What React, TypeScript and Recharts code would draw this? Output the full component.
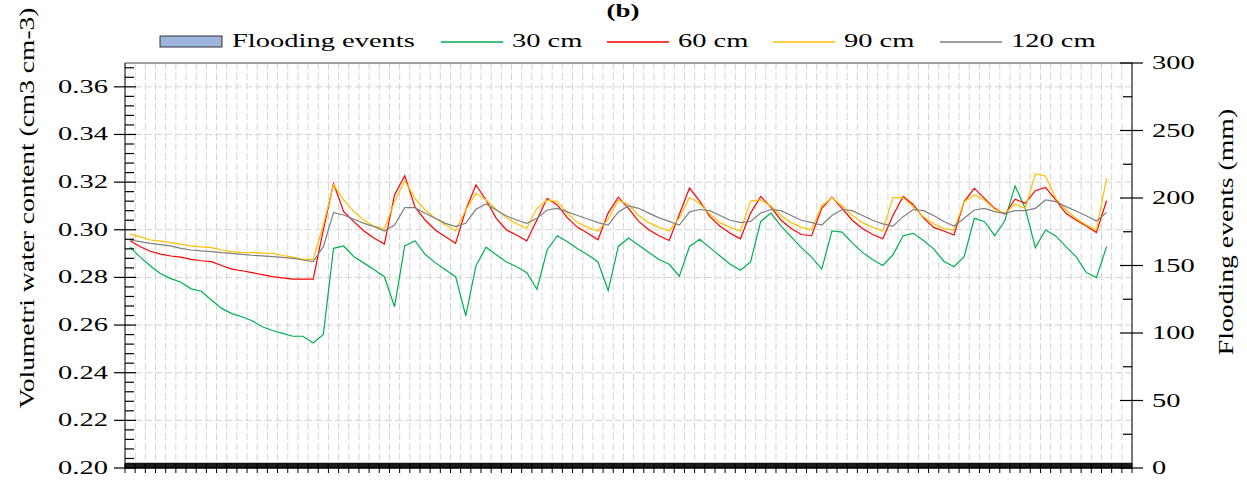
import React from 'react';
import {
  ComposedChart,
  Line,
  Bar,
  XAxis,
  YAxis,
  CartesianGrid,
  ReferenceLine,
  Legend,
} from 'recharts';

// soil moisture per depth (cm3 cm-3), one value per day
const water30 = [
  0.2927, 0.2885, 0.2848, 0.2815, 0.2795, 0.278, 0.2752, 0.2742, 0.2705, 0.267,
  0.2648, 0.2635, 0.2618, 0.2593, 0.2577, 0.2565, 0.2553, 0.2553, 0.2525, 0.2561,
  0.2922, 0.2932, 0.2887, 0.286, 0.2832, 0.2803, 0.2677, 0.2932, 0.2954, 0.2897,
  0.2862, 0.2832, 0.2803, 0.2639, 0.2848, 0.2927, 0.2895, 0.2865, 0.2845, 0.282,
  0.275, 0.2915, 0.2975, 0.295, 0.292, 0.2895, 0.2865, 0.2745, 0.293, 0.2965,
  0.2935, 0.2905, 0.2875, 0.2855, 0.2805, 0.293, 0.296, 0.2925, 0.289, 0.2855,
  0.283, 0.2865, 0.3035, 0.307, 0.3015, 0.297, 0.2925, 0.2885, 0.2835, 0.2995,
  0.299, 0.2945, 0.2905, 0.2875, 0.285, 0.2895, 0.2975, 0.2985, 0.2955, 0.292,
  0.2868, 0.2845, 0.2887, 0.3048, 0.3034, 0.2975, 0.3038, 0.3184, 0.309, 0.2925,
  0.2999, 0.2974, 0.2929, 0.2887, 0.2821, 0.2799, 0.2929,
];

const water60 = [
  0.2954, 0.2929, 0.291, 0.2898, 0.289, 0.2885, 0.2876, 0.287, 0.2866, 0.285,
  0.2835, 0.2828, 0.282, 0.2812, 0.2803, 0.2798, 0.2793, 0.2793, 0.2793, 0.3,
  0.3195, 0.3076, 0.3034, 0.2995, 0.2964, 0.294, 0.3146, 0.3227, 0.3097, 0.3041,
  0.2999, 0.2971, 0.2943, 0.3083, 0.3188, 0.3125, 0.3048, 0.2999, 0.2978, 0.2953,
  0.3041, 0.3132, 0.3104, 0.305, 0.301, 0.2985, 0.2958, 0.307, 0.3137, 0.309,
  0.3035, 0.3, 0.2975, 0.2955, 0.3065, 0.3175, 0.312, 0.3055, 0.3015, 0.2985,
  0.2962, 0.307, 0.314, 0.3095, 0.304, 0.3005, 0.298, 0.2975, 0.309, 0.3137,
  0.309, 0.304, 0.3005, 0.298, 0.2962, 0.306, 0.314, 0.3105, 0.305, 0.301,
  0.2995, 0.2978, 0.3118, 0.3174, 0.3132, 0.309, 0.3065, 0.3128, 0.3111, 0.3164,
  0.3178, 0.3125, 0.3069, 0.3041, 0.3016, 0.2988, 0.3122,
];

const water90 = [
  0.2982, 0.297, 0.2957, 0.2952, 0.2946, 0.294, 0.2932, 0.2928, 0.2925, 0.2915,
  0.2908, 0.2905, 0.2904, 0.2902, 0.2901, 0.2892, 0.2885, 0.2876, 0.2876, 0.302,
  0.319, 0.3125, 0.3076, 0.304, 0.3015, 0.3003, 0.3118, 0.3206, 0.3133, 0.3083,
  0.3048, 0.302, 0.2996, 0.3083, 0.3153, 0.3125, 0.3085, 0.305, 0.3025, 0.3006,
  0.309, 0.3125, 0.3118, 0.307, 0.303, 0.301, 0.2995, 0.3045, 0.3125, 0.3105,
  0.306, 0.303, 0.301, 0.2995, 0.305, 0.3135, 0.311, 0.3065, 0.303, 0.301,
  0.2995, 0.312, 0.3125, 0.31, 0.306, 0.303, 0.301, 0.3, 0.31, 0.3135,
  0.31, 0.306, 0.303, 0.301, 0.2995, 0.3135, 0.3135, 0.3095, 0.3055, 0.3025,
  0.3005, 0.2999, 0.3118, 0.3146, 0.3125, 0.3086, 0.3069, 0.3108, 0.309, 0.3234,
  0.3226, 0.3132, 0.3083, 0.3048, 0.302, 0.2999, 0.3216,
];

const water120 = [
  0.2957, 0.295, 0.2943, 0.2938, 0.2932, 0.2922, 0.2915, 0.2911, 0.2908, 0.2904,
  0.2901, 0.2897, 0.2893, 0.289, 0.2887, 0.2884, 0.288, 0.2873, 0.2866, 0.2929,
  0.3072, 0.3062, 0.3044, 0.3027, 0.3013, 0.2995, 0.302, 0.3093, 0.3093, 0.3069,
  0.3048, 0.3027, 0.3013, 0.3027, 0.3086, 0.3108, 0.3083, 0.3058, 0.3041, 0.3027,
  0.3048, 0.3083, 0.309, 0.3075, 0.306, 0.3045, 0.303, 0.302, 0.3075, 0.31,
  0.309, 0.307, 0.305, 0.3035, 0.302, 0.3075, 0.3085, 0.308, 0.306, 0.304,
  0.303, 0.3035, 0.307, 0.3085, 0.308, 0.306, 0.304, 0.303, 0.302, 0.306,
  0.3085, 0.308, 0.306, 0.304, 0.3025, 0.3015, 0.3055, 0.3085, 0.308, 0.306,
  0.3035, 0.3016, 0.3048, 0.3083, 0.309, 0.3076, 0.3069, 0.308, 0.308, 0.309,
  0.3125, 0.3118, 0.3097, 0.3079, 0.3059, 0.3037, 0.3073,
];

// flooding events (mm), one bar per day
const flood = [
  3.5, 3.5, 3.5, 3.5, 3.5, 3.5, 3.5, 3.5, 3.5, 3.5,
  3.5, 3.5, 3.5, 3.5, 3.5, 3.5, 3.5, 3.5, 3.5, 3.5,
  3.5, 3.5, 3.5, 3.5, 3.5, 3.5, 3.5, 3.5, 3.5, 3.5,
  3.5, 3.5, 3.5, 3.5, 3.5, 3.5, 3.5, 3.5, 3.5, 3.5,
  3.5, 3.5, 3.5, 3.5, 3.5, 3.5, 3.5, 3.5, 3.5, 3.5,
  3.5, 3.5, 3.5, 3.5, 3.5, 3.5, 3.5, 3.5, 3.5, 3.5,
  3.5, 3.5, 3.5, 3.5, 3.5, 3.5, 3.5, 3.5, 3.5, 3.5,
  3.5, 3.5, 3.5, 3.5, 3.5, 3.5, 3.5, 3.5, 3.5, 3.5,
  3.5, 3.5, 3.5, 3.5, 3.5, 3.5, 3.5, 3.5, 3.5, 3.5,
  3.5, 3.5, 3.5, 3.5, 3.5, 3.5, 3.5, 3.5, 3.5,
];

const leftTicks = [0.2, 0.22, 0.24, 0.26, 0.28, 0.3, 0.32, 0.34, 0.36];
const leftMinorTicks = [
  0.204, 0.208, 0.212, 0.216, 0.224, 0.228, 0.232, 0.236, 0.244, 0.248, 0.252, 0.256,
  0.264, 0.268, 0.272, 0.276, 0.284, 0.288, 0.292, 0.296, 0.304, 0.308, 0.312, 0.316,
  0.324, 0.328, 0.332, 0.336, 0.344, 0.348, 0.352, 0.356, 0.364, 0.368,
];
const rightTicks = [0, 50, 100, 150, 200, 250, 300];
const rightMinorTicks = [25, 75, 125, 175, 225, 275];

const legendItems = [
  { name: 'Flooding events', color: '#9DB4DF', kind: 'rect' },
  { name: '30 cm', color: '#00B050', kind: 'line' },
  { name: '60 cm', color: '#FF0000', kind: 'line' },
  { name: '90 cm', color: '#FFC000', kind: 'line' },
  { name: '120 cm', color: '#7F7F7F', kind: 'line' },
];
const legendX = [160, 441, 607, 773, 940];

const rows = flood.map((f, i) => ({
  day: i,
  flood: f,
  w30: water30[i] ?? null,
  w60: water60[i] ?? null,
  w90: water90[i] ?? null,
  w120: water120[i] ?? null,
}));
// day boundaries for the x ticks and vertical grid
const xTicks = [...rows.map((r) => r.day - 0.5), rows.length - 0.5];
const leftAll = [...leftTicks, ...leftMinorTicks].sort((a, b) => a - b);
const rightAll = [...rightTicks, ...rightMinorTicks].sort((a, b) => a - b);
const isIn = (list: number[], v: number) => list.some((t) => Math.abs(t - v) < 1e-9);

const FONT = '"Liberation Serif", "Times New Roman", serif';
const SX = 1.5; // the source figure is stretched sideways

const Stretch = ({ x, y, anchor, size, bold, children }: any) => (
  <g transform={`translate(${x},${y}) scale(${SX},1)`}>
    <text x={0} y={0} textAnchor={anchor} fontFamily={FONT} fontSize={size}
      fontWeight={bold ? 'bold' : 'normal'} fill="#000">
      {children}
    </text>
  </g>
);

// left ticks: majors cross the axis and carry a label, minors point inwards
const LeftTick = ({ x, y, payload }: any) => {
  const v = Number(payload.value);
  const major = isIn(leftTicks, v);
  const ax = x + 17;
  return (
    <g>
      <line x1={major ? ax - 11 : ax} x2={ax + (major ? 11 : 9)} y1={y} y2={y} stroke="#000" strokeWidth={1.2} />
      {major && <Stretch x={x} y={y + 6} anchor="end" size={19}>{v.toFixed(2)}</Stretch>}
    </g>
  );
};

const RightTick = ({ x, y, payload }: any) => {
  const v = Number(payload.value);
  const major = isIn(rightTicks, v);
  const ax = x - 20;
  return (
    <g>
      <line x1={major ? ax - 12 : ax - 9} x2={major ? ax + 11 : ax} y1={y} y2={y} stroke="#000" strokeWidth={1.2} />
      {major && <Stretch x={x} y={y + 6} anchor="start" size={19}>{v}</Stretch>}
    </g>
  );
};

const NoLabel = () => <g />;

const LegendContent = () => (
  <svg width={1247} height={60} style={{ display: 'block' }}>
    {legendItems.map((it, i) => (
      <g key={it.name}>
        {it.kind === 'rect' ? (
          <rect x={legendX[i]} y={36} width={62} height={11} fill={it.color} stroke="#333" strokeWidth={1} />
        ) : (
          <line x1={legendX[i]} x2={legendX[i] + 62} y1={42} y2={42} stroke={it.color} strokeWidth={1.3} />
        )}
        <Stretch x={legendX[i] + (it.kind === 'rect' ? 72 : 71)} y={47} anchor="start" size={19}>
          {it.name}
        </Stretch>
      </g>
    ))}
  </svg>
);

const App: React.FC = () => (
  <div style={{ position: 'absolute', left: 0, top: 0, width: 1247, height: 482, background: '#fff' }}>
    <ComposedChart
      width={1247}
      height={482}
      data={rows}
      margin={{ top: 63, right: 55, bottom: 4, left: 65 }}
      barGap={0}
      barCategoryGap={0}
    >
      <CartesianGrid horizontal={false} stroke="#d4d4d4" strokeDasharray="7 3" />
      <XAxis
        type="number"
        dataKey="day"
        domain={[-0.5, rows.length - 0.5]}
        ticks={xTicks}
        interval={0}
        tick={NoLabel}
        tickSize={5}
        height={10}
        axisLine={{ stroke: '#000' }}
        tickLine={{ stroke: '#000' }}
      />
      <YAxis
        yAxisId="left"
        domain={[0.2, 0.37]}
        ticks={leftAll}
        interval={0}
        width={60}
        tickSize={11}
        tickMargin={6}
        tickLine={false}
        tick={(p: any) => <LeftTick {...p} />}
        axisLine={{ stroke: '#000' }}
      />
      <YAxis
        yAxisId="right"
        orientation="right"
        domain={[0, 300]}
        ticks={rightAll}
        interval={0}
        width={60}
        tickSize={11}
        tickMargin={9}
        tickLine={false}
        tick={(p: any) => <RightTick {...p} />}
        axisLine={{ stroke: '#000' }}
      />
      {leftTicks.slice(1).map((t) => (
        <ReferenceLine key={t} yAxisId="left" y={t} stroke="#d4d4d4" strokeDasharray="7 3" />
      ))}
      <ReferenceLine yAxisId="left" y={0.37} stroke="#808080" strokeWidth={1.5} />
      <Legend
        layout="horizontal"
        verticalAlign="middle"
        align="center"
        content={() => <LegendContent />}
        wrapperStyle={{ top: 0, left: 0, width: 1247, height: 60 }}
      />
      <Bar yAxisId="right" dataKey="flood" barSize={10} fill="#1a1a1a" stroke="#000" isAnimationActive={false} />
      <Line yAxisId="left" type="linear" dataKey="w30" stroke="#00B050" strokeWidth={1.2} dot={false} isAnimationActive={false} />
      <Line yAxisId="left" type="linear" dataKey="w60" stroke="#FF0000" strokeWidth={1.2} dot={false} isAnimationActive={false} />
      <Line yAxisId="left" type="linear" dataKey="w90" stroke="#FFC000" strokeWidth={1.2} dot={false} isAnimationActive={false} />
      <Line yAxisId="left" type="linear" dataKey="w120" stroke="#7F7F7F" strokeWidth={1.2} dot={false} isAnimationActive={false} />
      <Stretch x={623} y={17} anchor="middle" size={18} bold>(b)</Stretch>
      <g transform="translate(26,208) rotate(-90) scale(1.25,1)">
        <text x={0} y={0} textAnchor="middle" dominantBaseline="central" fontFamily={FONT} fontSize={22} fill="#000">
          Volumetri water content (cm3 cm-3)
        </text>
      </g>
      <g transform="translate(1226,232) rotate(-90) scale(1.32,1)">
        <text x={0} y={0} textAnchor="middle" dominantBaseline="central" fontFamily={FONT} fontSize={21} fill="#000">
          Flooding events (mm)
        </text>
      </g>
    </ComposedChart>
  </div>
);

export default App;
